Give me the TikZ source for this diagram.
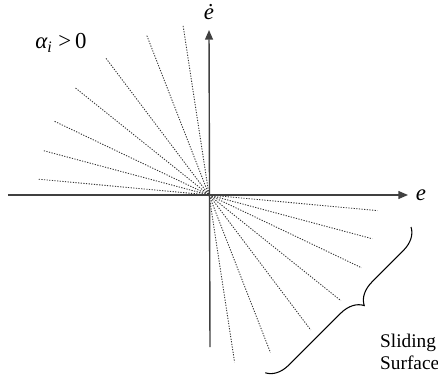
\documentclass[tikz,border=0pt]{standalone}
\usepackage{fontspec}
\setmainfont{Liberation Serif}
\usetikzlibrary{arrows.meta, decorations.pathreplacing}

\begin{document}
\begin{tikzpicture}[
    x=0.02cm, y=0.02cm,
    axis/.style={-{Triangle[length=5.5pt, width=4.5pt]}, line width=0.8pt, black!75},
    surf/.style={line width=0.5pt, black!80, dash pattern=on 0.7pt off 0.8pt},
    lbl/.style={font=\fontsize{13}{15}\selectfont\itshape},
]
  \useasboundingbox (-209,-190) rectangle (229,195);

  \coordinate (o) at (0,0);
  \coordinate (xl) at (-201,0);
  \coordinate (xr) at (199,0);
  \coordinate (yb) at (1,-152);
  \coordinate (yt) at (0,165);

  \foreach \a in {98.7, 111.3, 127, 141.3, 154.5, 165, 174.7}
    \draw[surf] (\a:171) -- (o) -- (\a+180:169);

  \draw[axis] (xl) -- (xr);
  \draw[axis] (yb) -- (yt);

  \node[lbl, right=1pt] (e) at (xr) {e};
  \node[lbl, anchor=south, inner sep=0pt] (edot) at (0,175) {ė};
  \node[lbl] (alpha) at (-148,152) {α\textsubscript{i} \upshape>\,0};

  \coordinate (bt) at (202,-32);
  \coordinate (bb) at (56,-178);
  \draw[line width=0.6pt, decorate,
        decoration={brace, amplitude=0.45cm, aspect=0.43}] (bt) -- (bb);
  \node[align=left, anchor=west, font=\fontsize{11}{12.5}\selectfont] (ss)
    at (165,-157) {Sliding\\Surface};
\end{tikzpicture}
\end{document}
